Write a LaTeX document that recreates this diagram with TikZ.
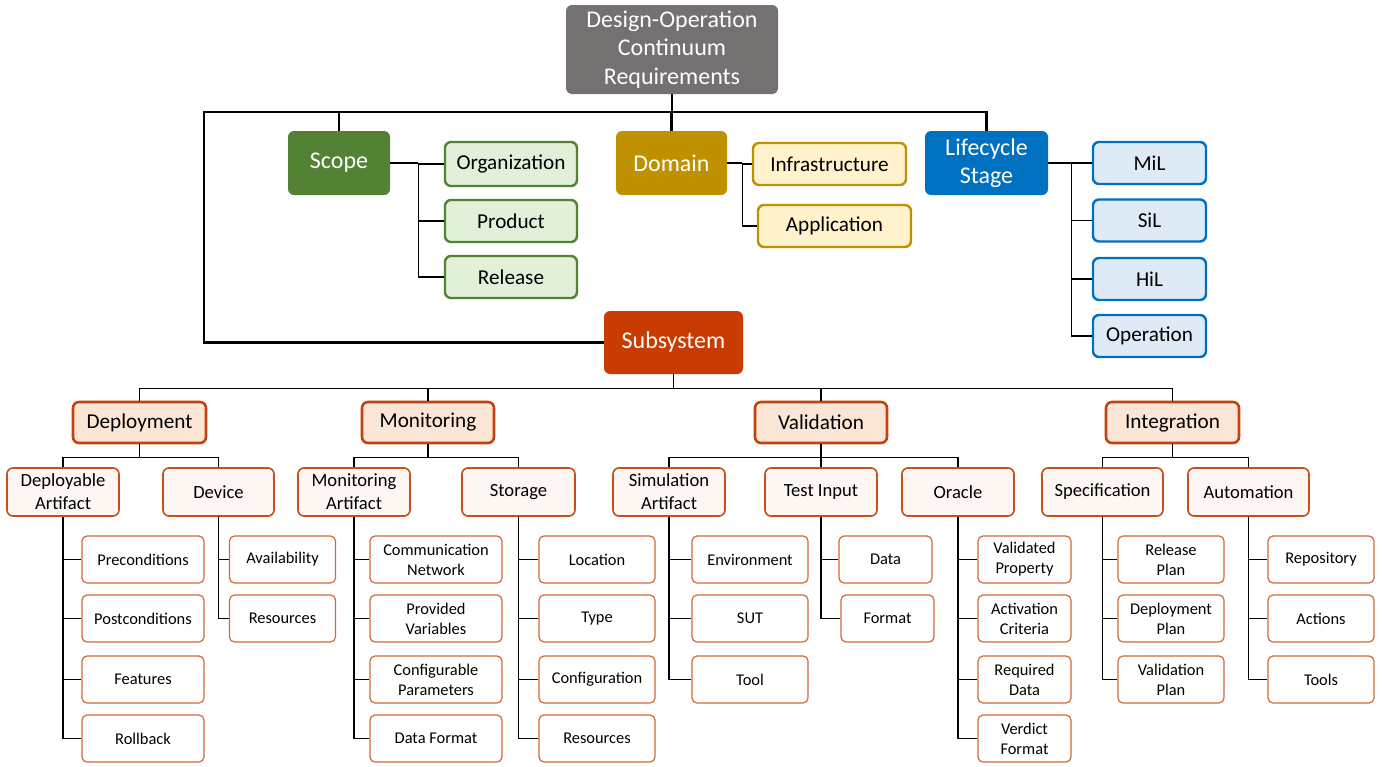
\documentclass[tikz,border=0pt]{standalone}
\usepackage{fontspec}
\setmainfont{Carlito}
\usepackage{xcolor}
\usepackage{tikz}
\usetikzlibrary{positioning,calc}
\definecolor{rootgray}{HTML}{767171}
\definecolor{scopegreen}{HTML}{548235}
\definecolor{greenlight}{HTML}{E2F0D9}
\definecolor{domgold}{HTML}{BF9000}
\definecolor{goldlight}{HTML}{FFF2CC}
\definecolor{lifeblue}{HTML}{0070C0}
\definecolor{bluelight}{HTML}{DEEBF7}
\definecolor{subred}{HTML}{C83C04}
\definecolor{tierfill}{HTML}{FBE5D6}
\definecolor{tierdraw}{HTML}{C4420E}
\definecolor{artfill}{HTML}{FDF6F2}
\definecolor{artdraw}{HTML}{C5501C}
\definecolor{leafdraw}{HTML}{D06A3A}

\begin{document}
\begin{tikzpicture}[
  x=0.5pt, y=-0.5pt,
  sz/.style 2 args={minimum width=#1*0.5pt, minimum height=#2*0.5pt},
  head/.style={rounded corners=3pt, inner sep=0pt, align=center, text=white,
               font=\fontsize{12}{14.2}\selectfont},
  sub/.style={draw=#1, line width=1.2pt, rounded corners=3pt, inner sep=0pt,
              align=center, font=\fontsize{10.6}{12.5}\selectfont},
  tier/.style={draw=tierdraw, fill=tierfill, line width=1.3pt, rounded corners=3pt,
               inner sep=0pt, align=center, font=\fontsize{10.6}{12.5}\selectfont},
  art/.style={draw=artdraw, fill=artfill, line width=0.8pt, rounded corners=3pt,
              inner sep=0pt, align=center, font=\fontsize{9.3}{11.5}\selectfont},
  leaf/.style={draw=leafdraw, fill=white, line width=0.6pt, rounded corners=2.5pt,
               inner sep=0pt, align=center, font=\fontsize{8.2}{10}\selectfont},
  bus/.style={line width=1.25pt},
  conn/.style={line width=0.75pt}
]
\useasboundingbox (0,0) rectangle (1382,766);

% top level
\node[head, fill=rootgray, sz={212}{89}] (root) at (672,49.5)
  {Design-Operation\\Continuum\\Requirements};
\node[head, fill=scopegreen, sz={102}{64}] (scope) at (339,163) {Scope};
\node[head, fill=domgold, sz={111}{64}] (domain) at (671.5,163) {Domain};
\node[head, fill=lifeblue, sz={123}{64}] (life) at (986.5,163) {Lifecycle\\Stage};
\node[head, fill=subred, sz={139}{63}] (subsys) at (673.5,342.5) {Subsystem};

\coordinate (corner) at (204,112);
\draw[bus] (root.south) -- (root.south |- corner);
\draw[bus] (subsys.west) -| (corner) -| (life.north);
\draw[bus] (scope.north) -- (scope.north |- corner);
\draw[bus] (domain.north) -- (domain.north |- corner);

% scope
\node[sub=scopegreen, fill=greenlight, sz={132}{44}] (org) at (511,164) {Organization};
\node[sub=scopegreen, fill=greenlight, sz={132}{42}] (prod) at (511,221) {Product};
\node[sub=scopegreen, fill=greenlight, sz={132}{42}] (rel) at (511,277) {Release};
\draw[conn] (scope.east) -- ++(28,0) coordinate (sc);
\draw[conn] (sc) |- (org.west);
\draw[conn] (sc) |- (prod.west);
\draw[conn] (sc) |- (rel.west);

% domain
\node[sub=domgold, fill=goldlight, sz={153}{42}] (infra) at (829.5,164) {Infrastructure};
\node[sub=domgold, fill=goldlight, sz={153}{42}] (app) at (834.5,226) {Application};
\draw[conn] (domain.east) -- ++(15,0) coordinate (dc);
\draw[conn] (dc) |- (infra.west);
\draw[conn] (dc) |- (app.west);

% lifecycle
\foreach \t/\y [count=\i] in {MiL/163, SiL/220.5, HiL/279, Operation/336} {
  \node[sub=lifeblue, fill=bluelight, sz={113}{42}] (ls\i) at (1149.5,\y) {\t};
}
\draw[conn] (life.east) -- ++(23,0) coordinate (lc);
\foreach \i in {1,...,4} \draw[conn] (lc) |- (ls\i.west);

% subsystem tiers
\node[tier, sz={133}{41}] (deploy) at (139.5,422.5) {Deployment};
\node[tier, sz={132}{41}] (monit) at (428,422.5) {Monitoring};
\node[tier, sz={132}{41}] (valid) at (821,422.5) {Validation};
\node[tier, sz={133}{41}] (integ) at (1172.5,422.5) {Integration};
\draw[conn] (subsys.south) -- ++(0,14) coordinate (sb);
\draw[conn] (deploy.north) |- (sb) -| (integ.north);
\draw[conn] (monit.north) -- (monit.north |- sb);
\draw[conn] (valid.north) -- (valid.north |- sb);

% artifacts
\node[art, sz={112}{48}] (depart) at (63,492) {Deployable\\Artifact};
\node[art, sz={111}{48}] (device) at (218.5,492) {Device};
\node[art, sz={112}{48}] (monart) at (354,492) {Monitoring\\Artifact};
\node[art, sz={113}{48}] (storage) at (518.5,492) {Storage};
\node[art, sz={112}{48}] (simart) at (669,492) {Simulation\\Artifact};
\node[art, sz={112}{48}] (testin) at (821,492) {Test Input};
\node[art, sz={112}{48}] (oracle) at (958,492) {Oracle};
\node[art, sz={121}{48}] (spec) at (1102.5,492) {Specification};
\node[art, sz={121}{48}] (autom) at (1248.5,492) {Automation};

\draw[conn] (deploy.south) -- ++(0,13) coordinate (b1);
\draw[conn] (depart.north) |- (b1) -| (device.north);
\draw[conn] (monit.south) -- ++(0,13) coordinate (b2);
\draw[conn] (monart.north) |- (b2) -| (storage.north);
\draw[conn] (valid.south) -- (testin.north);
\draw[conn] (simart.north) |- ($(valid.south)+(0,13)$) -| (oracle.north);
\draw[conn] (integ.south) -- ++(0,13) coordinate (b4);
\draw[conn] (spec.north) |- (b4) -| (autom.north);

% leaves
\foreach \t/\y [count=\i] in {Preconditions/559.5, Postconditions/618.5,
    Features/679.5, Rollback/738.5} {
  \node[leaf, sz={122}{47}] (da\i) at (143,\y) {\t};
  \draw[conn] (depart.south) |- (da\i.west);
}
\foreach \t/\y [count=\i] in {Availability/559.5, Resources/618.5} {
  \node[leaf, sz={106}{47}] (dv\i) at (282.5,\y) {\t};
  \draw[conn] (device.south) |- (dv\i.west);
}
\foreach \t/\y [count=\i] in {{Communication\\Network}/559.5,
    {Provided\\Variables}/618.5, {Configurable\\Parameters}/679.5,
    Data Format/738.5} {
  \node[leaf, sz={132}{47}] (ma\i) at (436,\y) {\t};
  \draw[conn] (monart.south) |- (ma\i.west);
}
\foreach \t/\y [count=\i] in {Location/559.5, Type/618.5,
    Configuration/679.5, Resources/738.5} {
  \node[leaf, sz={116}{47}] (st\i) at (597,\y) {\t};
  \draw[conn] (storage.south) |- (st\i.west);
}
\foreach \t/\y [count=\i] in {Environment/559.5, SUT/618.5, Tool/679.5} {
  \node[leaf, sz={116}{47}] (sa\i) at (750,\y) {\t};
  \draw[conn] (simart.south) |- (sa\i.west);
}
\node[leaf, sz={93}{47}] (ti1) at (885.5,559.5) {Data};
\node[leaf, sz={93}{47}] (ti2) at (887.5,618.5) {Format};
\draw[conn] (testin.south) |- (ti1.west);
\draw[conn] (testin.south) |- (ti2.west);
\foreach \t/\y [count=\i] in {{Validated\\Property}/559.5,
    {Activation\\Criteria}/618.5, {Required\\Data}/679.5,
    {Verdict\\Format}/738.5} {
  \node[leaf, sz={93}{47}] (or\i) at (1024.5,\y) {\t};
  \draw[conn] (oracle.south) |- (or\i.west);
}
\foreach \t/\y [count=\i] in {{Release\\Plan}/559.5,
    {Deployment\\Plan}/618.5, {Validation\\Plan}/679.5} {
  \node[leaf, sz={106}{47}] (sp\i) at (1171,\y) {\t};
  \draw[conn] (spec.south) |- (sp\i.west);
}
\foreach \t/\y [count=\i] in {Repository/559.5, Actions/618.5, Tools/679.5} {
  \node[leaf, sz={106}{47}] (au\i) at (1321,\y) {\t};
  \draw[conn] (autom.south) |- (au\i.west);
}
\end{tikzpicture}
\end{document}
